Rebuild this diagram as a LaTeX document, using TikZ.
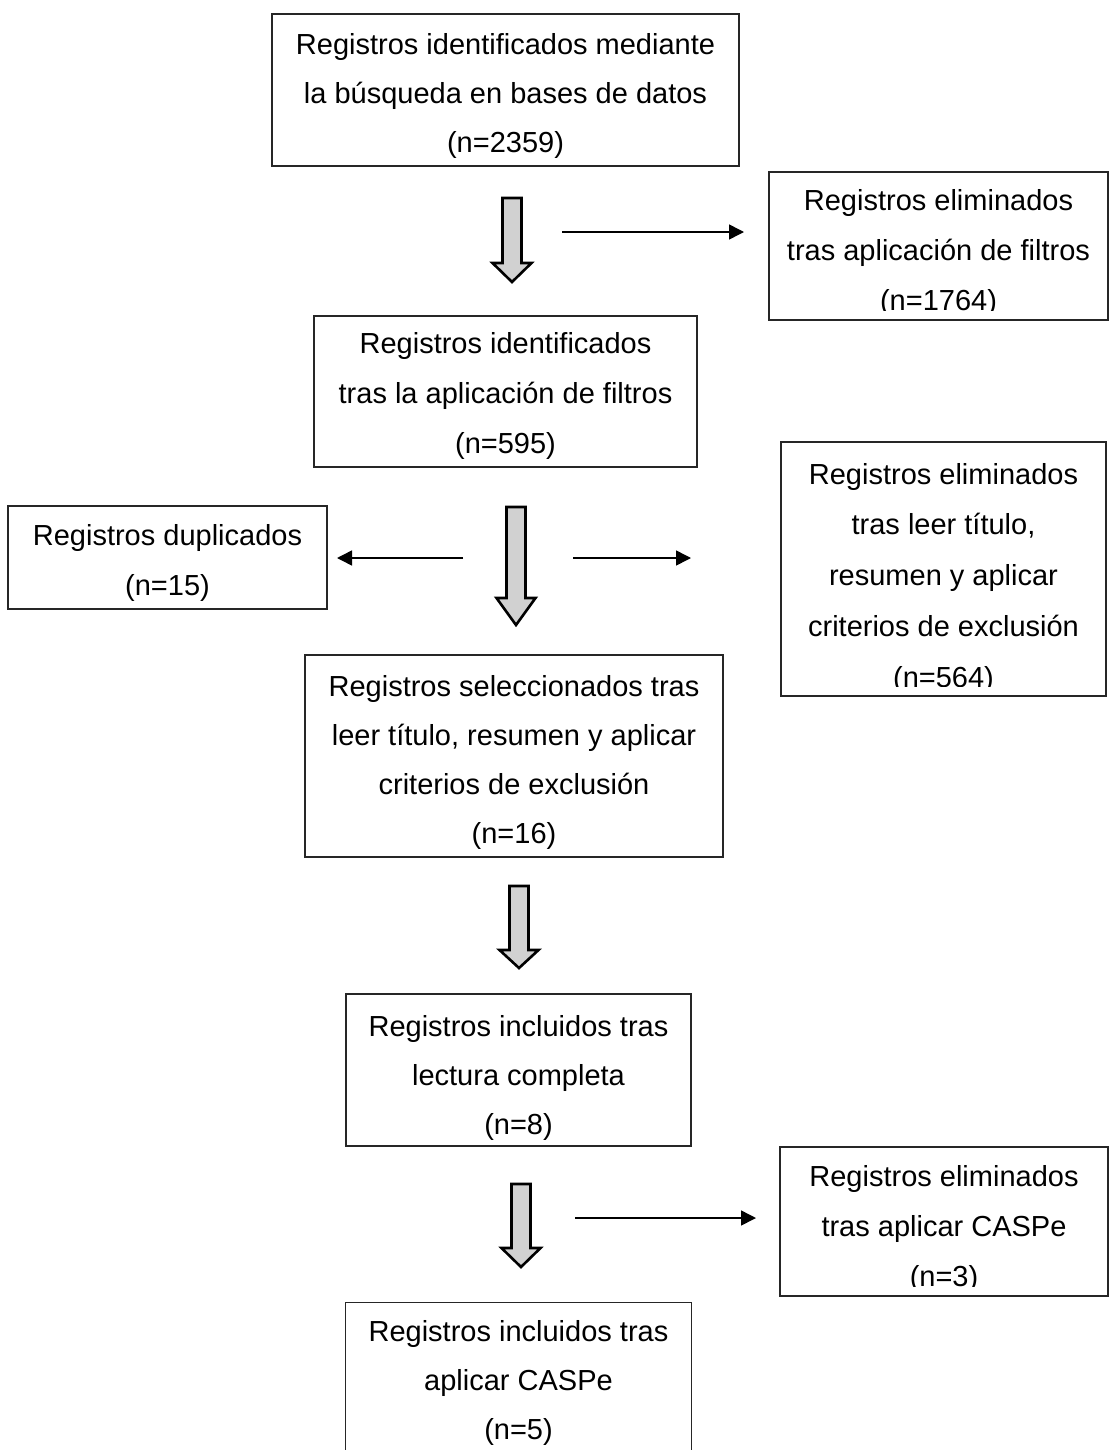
\documentclass[tikz,border=0pt]{standalone}
\usepackage{fontspec}
\setmainfont{Liberation Sans}
\usetikzlibrary{arrows.meta,fit}
\tikzset{
  box/.style={draw=black!85, line width=0.6pt, inner sep=0pt},
  boxline/.style={draw=black!85, line width=0.6pt},
  txt/.style={font=\fontsize{14.5}{#1}\selectfont, anchor=base, inner sep=0pt},
  txt/.default=25,
  thinarrow/.style={line width=0.75pt, -{Triangle[length=7.5pt,width=7.5pt]}},
  blockarr/.style={draw=black, line width=1.3pt, fill=black!18, line join=miter},
}
\newcommand\mylines[1]{\begin{tabular}[t]{@{}c@{}}#1\end{tabular}}
\newcommand\bigarrow[4]{% cx, top, headbase, tip
  \draw[blockarr] ({#1-9.5},#2) -- ({#1+9.5},#2) -- ({#1+9.5},#3) -- ({#1+19.5},#3)
    -- (#1,#4) -- ({#1-19.5},#3) -- ({#1-9.5},#3) -- cycle;}
\begin{document}
\begin{tikzpicture}[x=0.5pt,y=-0.5pt]
\useasboundingbox (0,0) rectangle (1110,1450);

% boxes
\node[box, fit={(272,14) (739,166)}] (b1) {};
\node[box, fit={(769,172) (1108,320)}] (b2) {};
\node[box, fit={(314,316) (697,467)}] (b3) {};
\node[box, fit={(781,442) (1106,696)}] (b4) {};
\node[box, fit={(8,506) (327,609)}] (b5) {};
\node[box, fit={(305,655) (723,857)}] (b6) {};
\node[box, fit={(346,994) (691,1146)}] (b7) {};
\node[box, fit={(780,1147) (1108,1296)}] (b8) {};
\node[inner sep=0pt, fit={(346,1303) (691,1450)}] (b9) {};
\draw[boxline] (b9.south west) -- (b9.north west) -- (b9.north east) -- (b9.south east);

% texts
\node[txt=24.5] (t1) at (505.5,55) {\mylines{Registros identificados mediante\\la búsqueda en bases de datos\\(n=2359)}};
\begin{scope}
  \clip (b2.north west) rectangle ([yshift=5pt]b2.south east);
  \node[txt] (t2) at (938.5,210) {\mylines{Registros eliminados\\tras aplicación de filtros\\(n=1764)}};
\end{scope}
\node[txt] (t3) at (505.5,353) {\mylines{Registros identificados\\tras la aplicación de filtros\\(n=595)}};
\begin{scope}
  \clip (b4.north west) rectangle ([yshift=5pt]b4.south east);
  \node[txt=25.4] (t4) at (943.5,484) {\mylines{Registros eliminados\\tras leer título,\\resumen y aplicar\\criterios de exclusión\\(n=564)}};
\end{scope}
\node[txt] (t5) at (167.5,545) {\mylines{Registros duplicados\\(n=15)}};
\node[txt=24.5] (t6) at (514,696) {\mylines{Registros seleccionados tras\\leer título, resumen y aplicar\\criterios de exclusión\\(n=16)}};
\node[txt=24.5] (t7) at (518.5,1036) {\mylines{Registros incluidos tras\\lectura completa\\(n=8)}};
\begin{scope}
  \clip (b8.north west) rectangle ([yshift=5pt]b8.south east);
  \node[txt] (t8) at (944,1186) {\mylines{Registros eliminados\\tras aplicar CASPe\\(n=3)}};
\end{scope}
\node[txt=24.5] (t9) at (518.5,1341) {\mylines{Registros incluidos tras\\aplicar CASPe\\(n=5)}};

% block arrows
\bigarrow{512}{198}{263}{282}
\bigarrow{516}{507}{598}{625}
\bigarrow{519}{886}{950}{968}
\bigarrow{521}{1184}{1248}{1267}

% thin arrows
\coordinate (a1s) at (562,232);  \coordinate (a1e) at (744,232);
\coordinate (a2s) at (463,558);  \coordinate (a2e) at (337,558);
\coordinate (a3s) at (573,558);  \coordinate (a3e) at (691,558);
\coordinate (a4s) at (575,1218); \coordinate (a4e) at (756,1218);
\draw[thinarrow] (a1s) -- (a1e);
\draw[thinarrow] (a2s) -- (a2e);
\draw[thinarrow] (a3s) -- (a3e);
\draw[thinarrow] (a4s) -- (a4e);
\end{tikzpicture}
\end{document}
